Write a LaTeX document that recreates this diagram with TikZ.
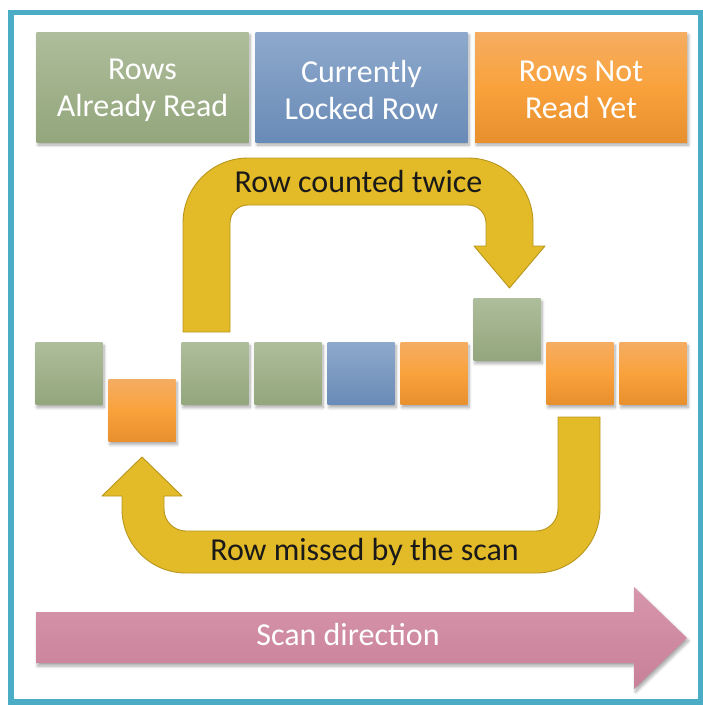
\documentclass[tikz,border=0pt]{standalone}
\usepackage{fontspec}
\setmainfont{Carlito}
\usetikzlibrary{shadows.blur}

\definecolor{frameteal}{RGB}{75,172,198}
\definecolor{readtop}{RGB}{174,189,155}
\definecolor{readbot}{RGB}{147,166,124}
\definecolor{locktop}{RGB}{142,169,204}
\definecolor{lockbot}{RGB}{105,139,183}
\definecolor{todotop}{RGB}{245,173,98}
\definecolor{todomid}{RGB}{249,162,60}
\definecolor{todobot}{RGB}{232,143,46}
\definecolor{loopfill}{RGB}{227,186,39}
\definecolor{loopedge}{RGB}{184,150,30}
\definecolor{scantop}{RGB}{215,150,171}
\definecolor{scanbot}{RGB}{200,128,153}

\tikzset{
  softshadow/.style={blur shadow={shadow xshift=1.5pt, shadow yshift=-3pt,
      shadow blur steps=6, shadow blur radius=3pt, shadow opacity=35}},
  legendbox/.style={minimum width=212pt, minimum height=110pt, inner sep=0pt, softshadow},
  legendtext/.style={align=center, text=white, inner sep=0pt,
      font=\fontsize{32}{37}\selectfont},
  cell/.style={minimum width=67pt, minimum height=62pt, inner sep=0pt, softshadow},
  rowread/.style={top color=readtop, bottom color=readbot},
  rowlock/.style={top color=locktop, bottom color=lockbot},
  rowtodo/.style={top color=todotop, bottom color=todobot, middle color=todomid},
  loop/.style={fill=loopfill, draw=loopedge, line width=0.9pt, line join=round},
  looplabel/.style={anchor=base, text=black!90, font=\fontsize{32}{37}\selectfont, inner sep=0pt},
}

\begin{document}
\begin{tikzpicture}[x=1pt, y=1pt, yscale=-1]
\useasboundingbox (0,0) rectangle (703,705);

% outer frame
\draw[frameteal, line width=5.5pt] (11,12.5) rectangle (700.5,702);

% legend (y grows downwards here, so a positive shift moves the text down)
\node[legendbox, rowread] (legread) at (142.5,87) {};
\node[legendbox, rowlock] (leglock) at (361.5,87) {};
\node[legendbox, rowtodo] (legtodo) at (581,87) {};
\node[legendtext] (legreadtxt) at ([yshift=3pt]legread.center) {Rows\\Already Read};
\node[legendtext] (leglocktxt) at ([yshift=3pt]leglock.center) {Currently\\Locked Row};
\node[legendtext] (legtodotxt) at ([yshift=3pt]legtodo.center) {Rows Not\\Read Yet};

% the row sequence
\node[cell, rowread] (r1) at (69,373.5) {};
\node[cell, rowtodo] (r2) at (142,410.5) {};
\node[cell, rowread] (r3) at (215,373.5) {};
\node[cell, rowread] (r4) at (288,373.5) {};
\node[cell, rowlock] (r5) at (361,373.5) {};
\node[cell, rowtodo] (r6) at (434,373.5) {};
\node[cell, rowread] (r7) at (507,329.5) {};
\node[cell, rowtodo] (r8) at (580,373.5) {};
\node[cell, rowtodo] (r9) at (653,373.5) {};

% upper U-turn arrow: row counted twice
\path[loop] (183,332) -- (183,223) arc[start angle=180, end angle=270, radius=65]
  -- (468,158) arc[start angle=270, end angle=360, radius=65]
  -- (533,246) -- (545,246) -- (509.5,288) -- (474,246) -- (486,246)
  -- (486,223) arc[start angle=0, end angle=-90, radius=18]
  -- (248,205) arc[start angle=270, end angle=180, radius=18]
  -- (230,332) -- cycle;
\node[looplabel] (twice) at (358.5,192) {Row counted twice};

% lower U-turn arrow: row missed by the scan
\path[loop] (558,417) -- (600,417)
  -- (600,509) arc[start angle=0, end angle=90, radius=64]
  -- (186,573) arc[start angle=90, end angle=180, radius=64]
  -- (122,496) -- (102,496) -- (142,457) -- (182,496) -- (164,496)
  -- (164,509) arc[start angle=180, end angle=90, radius=22]
  -- (536,531) arc[start angle=90, end angle=0, radius=22]
  -- cycle;
\node[looplabel] (missed) at (364.5,560) {Row missed by the scan};

% scan direction arrow
\shade[top color=scantop, bottom color=scanbot, softshadow]
  (36,612) -- (634,612) -- (634,587) -- (687,638) -- (634,689)
  -- (634,663) -- (36,663) -- cycle;
\node[anchor=base, text=white, font=\fontsize{32}{37}\selectfont, inner sep=0pt]
  (scan) at (348,645) {Scan direction};
\end{tikzpicture}
\end{document}
